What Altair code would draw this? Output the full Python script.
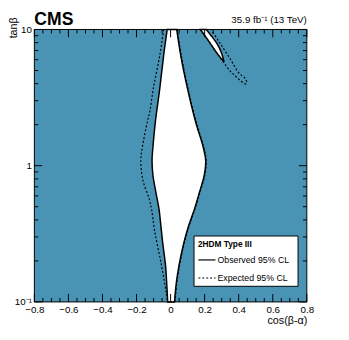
import altair as alt
import pandas as pd

# ---------------- data ----------------
x_range = [-0.8, 0.8]
y_range = [0.1, 10]

x_tick_values = [-0.8, -0.6, -0.4, -0.2, 0, 0.2, 0.4, 0.6, 0.8]
x_tick_labels = ["−0.8", "−0.6", "−0.4", "−0.2", "0", "0.2", "0.4", "0.6", "0.8"]
x_minor_values = [-0.75, -0.7, -0.65, -0.55, -0.5, -0.45, -0.35, -0.3, -0.25,
                  -0.15, -0.1, -0.05, 0.05, 0.1, 0.15, 0.25, 0.3, 0.35,
                  0.45, 0.5, 0.55, 0.65, 0.7, 0.75]
y_tick_values = [0.1, 1, 10]
y_tick_labels = ["10⁻¹", "1", "10"]
y_minor_values = [0.2, 0.3, 0.4, 0.5, 0.6, 0.7, 0.8, 0.9, 2, 3, 4, 5, 6, 7, 8, 9]

# observed allowed band around cos(b-a)=0
obs_tan = [10, 6.41, 3.65, 2.12, 1.36, 1.10, 0.855, 0.635, 0.48, 0.362, 0.269, 0.187, 0.139, 0.1]
obs_left = [-0.020, -0.041, -0.064, -0.089, -0.104, -0.109, -0.104, -0.086, -0.068, -0.057, -0.046, -0.030, -0.023, -0.017]
obs_right = [0.036, 0.060, 0.100, 0.146, 0.192, 0.206, 0.198, 0.169, 0.140, 0.106, 0.077, 0.050, 0.034, 0.023]

# observed allowed island (upper right)
isl_tan = [10, 8.91, 7.94, 6.73, 5.77]
isl_left = [0.175, 0.204, 0.232, 0.271, 0.314]
isl_right = [0.210, 0.241, 0.271, 0.299, 0.314]

# expected contours
exp_left_tan = [10, 6.41, 3.65, 2.50, 2.12, 1.36, 1.095, 0.787, 0.566, 0.48, 0.328, 0.187, 0.1086, 0.1]
exp_left_x = [-0.041, -0.064, -0.102, -0.122, -0.136, -0.166, -0.175, -0.163, -0.125, -0.112, -0.093, -0.054, -0.022, -0.020]
exp_right_tan = [10, 6.41, 3.65, 2.12, 1.36, 1.10, 0.855, 0.635, 0.48, 0.362, 0.269, 0.187, 0.139, 0.1]
exp_right_x = [0.039, 0.063, 0.103, 0.149, 0.195, 0.209, 0.201, 0.172, 0.143, 0.109, 0.080, 0.053, 0.037, 0.026]
exp_isl_x = [0.172, 0.204, 0.232, 0.271, 0.312, 0.345, 0.378, 0.410, 0.437, 0.447, 0.440, 0.404, 0.351, 0.290, 0.238]
exp_isl_tan = [10, 8.91, 7.94, 6.73, 5.72, 5.03, 4.58, 4.22, 3.98, 4.07, 4.35, 4.75, 6.05, 7.94, 10]

BLUE = "#4994b5"
FONT = "Liberation Sans"
W = H = 279

# ---------------- tables ----------------
frame_df = pd.DataFrame({"x": [x_range[0]], "x2": [x_range[1]], "y": [y_range[0]], "y2": [y_range[1]]})
band_df = pd.DataFrame({"tan": obs_tan, "left": obs_left, "right": obs_right})
isl_df = pd.DataFrame({"tan": isl_tan, "left": isl_left, "right": isl_right})

rows = []
def add(part, xs, ts):
    for k, (xv, tv) in enumerate(zip(xs, ts)):
        rows.append({"part": part, "i": k, "x": xv, "tan": tv})

add("eL", exp_left_x, exp_left_tan)
add("eR", exp_right_x, exp_right_tan)
add("eI", exp_isl_x, exp_isl_tan)
exp_lines = pd.DataFrame(rows)

xmaj_df = pd.DataFrame({"xv": [float(v) for v in x_tick_values]})
xmin_df = pd.DataFrame({"xv": x_minor_values})
ymaj_df = pd.DataFrame({"yv": [float(v) for v in y_tick_values]})
ymin_df = pd.DataFrame({"yv": [float(v) for v in y_minor_values]})
one = pd.DataFrame({"a": [0]})

xs = alt.Scale(domain=x_range, nice=False, zero=False)
ys = alt.Scale(type="log", domain=y_range, nice=False)


def lab_expr(vals, labs):
    return "[" + ",".join("'%s'" % l for l in labs) + "][indexof([" + ",".join(str(v) for v in vals) + "], datum.value)]"


# ---------------- layers ----------------
bg = alt.Chart(frame_df).mark_rect(color=BLUE).encode(
    x=alt.X("x:Q", scale=xs, axis=alt.Axis(
        orient="bottom", values=x_tick_values, labelExpr=lab_expr(x_tick_values, x_tick_labels),
        ticks=False, tickSize=0, domain=False, grid=False, labelFlush=False,
        labelFont=FONT, labelFontSize=10, labelPadding=3, labelColor="black",
        title="cos(β-α)", titleFont=FONT, titleFontSize=11, titleFontWeight="normal",
        titleX=W, titleY=22, titleAlign="right", titleBaseline="alphabetic", titleColor="black")),
    x2="x2:Q",
    y=alt.Y("y:Q", scale=ys, axis=alt.Axis(
        orient="left", values=y_tick_values, labelExpr=lab_expr(y_tick_values, y_tick_labels),
        ticks=False, tickSize=0, domain=False, grid=False,
        labelFont=FONT, labelFontSize=10, labelPadding=3, labelColor="black",
        title="tanβ", titleFont=FONT, titleFontSize=11, titleFontWeight="normal",
        titleX=-18, titleY=-13, titleAngle=-90, titleAlign="right", titleBaseline="alphabetic",
        titleColor="black")),
    y2="y2:Q",
)

band = alt.Chart(band_df).mark_area(fill="white", stroke="black", strokeWidth=1.5, opacity=1,
                                    orient="horizontal", interpolate="catmull-rom").encode(
    y=alt.Y("tan:Q", scale=ys, axis=None), x=alt.X("left:Q", scale=xs, axis=None), x2="right:Q")
island = alt.Chart(isl_df).mark_area(fill="white", stroke="black", strokeWidth=1.5, opacity=1,
                                     orient="horizontal", interpolate="catmull-rom").encode(
    y=alt.Y("tan:Q", scale=ys, axis=None), x=alt.X("left:Q", scale=xs, axis=None), x2="right:Q")

exp = alt.Chart(exp_lines).mark_line(color="black", strokeWidth=1.2, strokeDash=[2, 2],
                                      interpolate="catmull-rom", clip=True).encode(
    x=alt.X("x:Q", scale=xs, axis=None), y=alt.Y("tan:Q", scale=ys, axis=None), detail="part:N", order="i:Q")

frame = alt.Chart(frame_df).mark_rect(filled=False, stroke="black", strokeWidth=1).encode(
    x=alt.X("x:Q", scale=xs, axis=None), x2="x2:Q", y=alt.Y("y:Q", scale=ys, axis=None), y2="y2:Q")


def xticks(df, yc, size):
    return alt.Chart(df).mark_tick(color="black", size=size, thickness=1, orient="vertical", opacity=1).encode(
        x=alt.X("xv:Q", scale=xs, axis=None), y=alt.value(yc))


def yticks(df, xc, size):
    return alt.Chart(df).mark_tick(color="black", size=size, thickness=1, orient="horizontal", opacity=1).encode(
        y=alt.Y("yv:Q", scale=ys, axis=None), x=alt.value(xc))


tick_layers = [
    xticks(xmaj_df, H - 4, 8), xticks(xmin_df, H - 2, 4),
    xticks(xmaj_df, 4, 8), xticks(xmin_df, 2, 4),
    yticks(ymaj_df, 4, 8), yticks(ymin_df, 2, 4),
    yticks(ymaj_df, W - 4, 8), yticks(ymin_df, W - 2, 4),
]

# legend box
leg_box = alt.Chart(one).mark_rect(fill="white", stroke="black", strokeWidth=1).encode(
    x=alt.value(163.5), x2=alt.value(270), y=alt.value(211.5), y2=alt.value(263))
leg_title = alt.Chart(one).mark_text(text="2HDM Type III", font=FONT, fontSize=8.5, fontWeight="bold",
                                     align="left", baseline="middle", color="black").encode(
    x=alt.value(167.5), y=alt.value(220))
leg_l1 = alt.Chart(one).mark_rule(color="black", strokeWidth=1.2).encode(
    x=alt.value(168), x2=alt.value(185.5), y=alt.value(236))
leg_l2 = alt.Chart(one).mark_rule(color="black", strokeWidth=1.1, strokeDash=[2, 2]).encode(
    x=alt.value(168), x2=alt.value(185.5), y=alt.value(254.5))
leg_t1 = alt.Chart(one).mark_text(text="Observed 95% CL", font=FONT, fontSize=9, align="left",
                                  baseline="middle", color="black").encode(x=alt.value(187.5), y=alt.value(236))
leg_t2 = alt.Chart(one).mark_text(text="Expected 95% CL", font=FONT, fontSize=9, align="left",
                                  baseline="middle", color="black").encode(x=alt.value(187.5), y=alt.value(254.5))

cms = alt.Chart(one).mark_text(text="CMS", font=FONT, fontSize=18, fontWeight="bold", align="left",
                               baseline="alphabetic", color="black").encode(x=alt.value(0), y=alt.value(-5))
lumi = alt.Chart(one).mark_text(text="35.9 fb⁻¹ (13 TeV)", font=FONT, fontSize=10, align="right",
                                baseline="alphabetic", color="black").encode(x=alt.value(W), y=alt.value(-6.5))

chart = alt.layer(
    bg, band, island, exp, frame,
    leg_box, leg_title, leg_l1, leg_l2, leg_t1, leg_t2, cms, lumi, *tick_layers
).resolve_axis(x="independent", y="independent").properties(
    width=W, height=H,
    autosize=alt.AutoSizeParams(type="none"),
    padding={"left": 27, "top": 18, "right": 35, "bottom": 35},
).configure_view(stroke=None)

chart.save("out.html", embed_options={"renderer": "svg", "actions": False})
